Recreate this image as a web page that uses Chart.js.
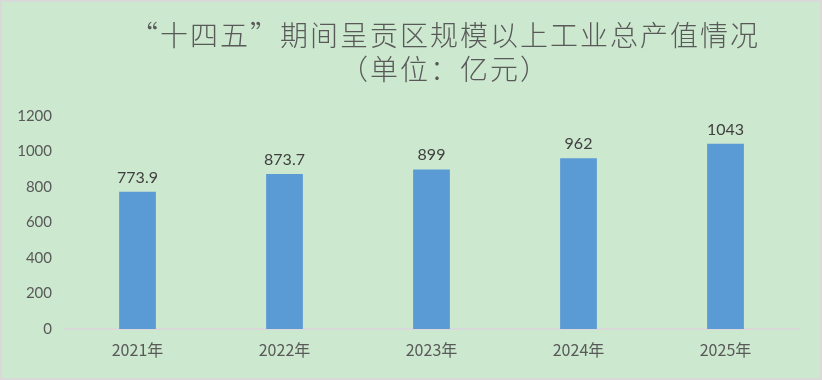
<!DOCTYPE html>
<html>
<head>
<meta charset="utf-8">
<script src="https://cdn.jsdelivr.net/npm/chart.js@4"></script>
<style>
html,body{margin:0;padding:0;background:#CCE8CF;}
#wrap{width:822px;height:380px;position:relative;}
</style>
</head>
<body>
<div id="wrap"><canvas id="c" width="822" height="380"></canvas></div>
<script>
const categories = ["2021年", "2022年", "2023年", "2024年", "2025年"];
const outputValues = [773.9, 873.7, 899, 962, 1043];
const valueLabels = ["773.9", "873.7", "899", "962", "1043"];
const yTickLabels = ["0", "200", "400", "600", "800", "1000", "1200"];
const titleLines = ["“十四五”期间呈贡区规模以上工业总产值情况", "（单位：亿元）"];

const bgPlugin = {
  id: 'bg',
  beforeDraw(chart) {
    const ctx = chart.ctx;
    ctx.save();
    ctx.fillStyle = '#CCE8CF';
    ctx.fillRect(0, 0, chart.width, chart.height);
    ctx.strokeStyle = '#D9D9D9';
    ctx.lineWidth = 2;
    ctx.strokeRect(1, 1, chart.width - 2, chart.height - 2);
    ctx.restore();
  }
};

const textPlugin = {
  id: 'texts',
  afterDraw(chart) {
    const ctx = chart.ctx;
    ctx.save();
    ctx.fillStyle = '#595959';
    ctx.textAlign = 'center';
    ctx.textBaseline = 'middle';
    ctx.font = '300 28px "Noto Sans CJK SC"';
    ctx.letterSpacing = '2px';
    ctx.fillText(titleLines[0], 445, 35);
    ctx.fillText(titleLines[1], 445, 69);
    ctx.letterSpacing = '0px';
    // data labels
    const meta = chart.getDatasetMeta(0);
    ctx.fillStyle = '#404040';
    ctx.font = '16px Lato';
    ctx.textBaseline = 'alphabetic';
    meta.data.forEach((bar, i) => {
      ctx.fillText(valueLabels[i], bar.x, bar.y - 9);
    });
    ctx.restore();
  }
};

new Chart(document.getElementById('c'), {
  type: 'bar',
  data: {
    labels: categories,
    datasets: [{
      data: outputValues,
      backgroundColor: '#5B9BD5',
      borderWidth: 0,
      barPercentage: 0.25,
      categoryPercentage: 1.0
    }]
  },
  options: {
    responsive: false,
    animation: false,
    devicePixelRatio: 1,
    layout: { padding: { top: 116, right: 23, left: 0, bottom: 0 } },
    plugins: {
      legend: { display: false },
      title: { display: false },
      tooltip: { enabled: false }
    },
    scales: {
      x: {
        grid: { display: false, drawTicks: false },
        border: { display: true, color: '#D9D9D9', width: 2 },
        ticks: { color: '#595959', font: { family: '"Noto Sans CJK SC"', size: 16 }, padding: 11, maxRotation: 0 },
        afterFit(s) { s.height = 51; }
      },
      y: {
        min: 0,
        max: 1200,
        grid: { display: false, drawTicks: false },
        border: { display: false },
        ticks: {
          stepSize: 200, color: '#595959', font: { family: 'Lato', size: 15 }, padding: 12,
          callback: (v, i) => yTickLabels[i]
        },
        afterFit(s) { s.width = 64; }
      }
    }
  },
  plugins: [bgPlugin, textPlugin]
});
</script>
</body>
</html>
